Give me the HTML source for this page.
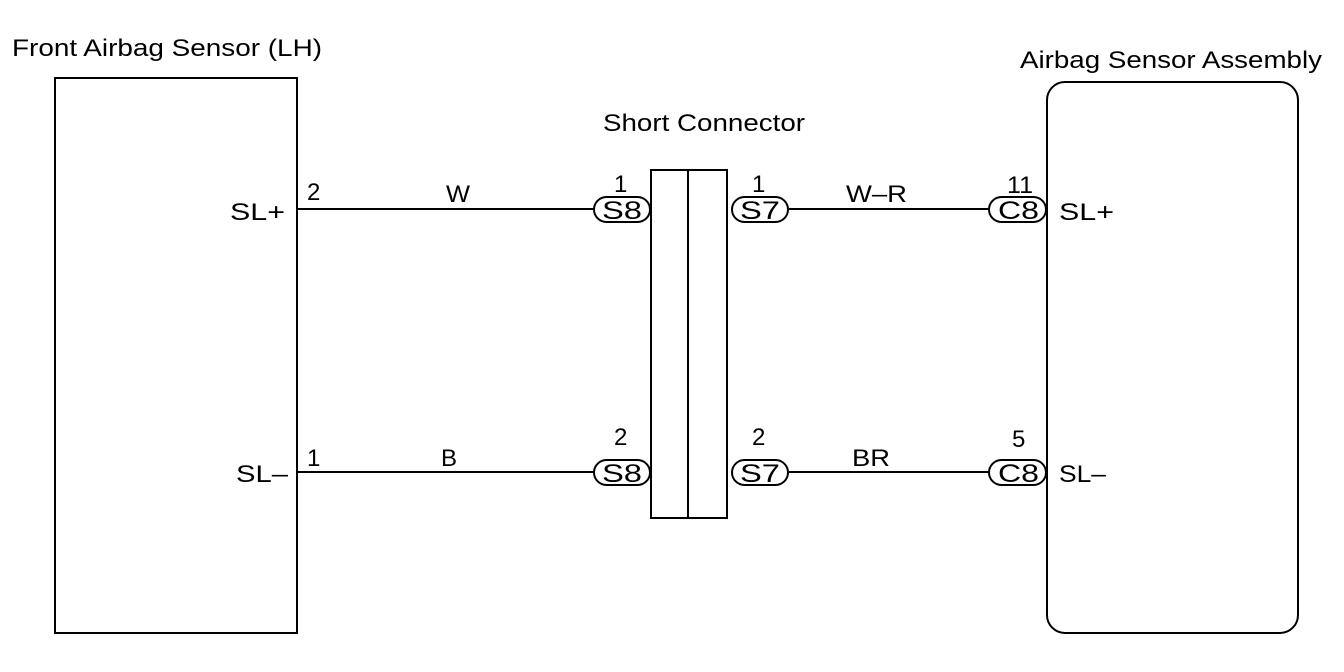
<!DOCTYPE html>
<html><head><style>body{margin:0;background:#fff}svg{display:block}</style></head><body>
<svg width="1344" height="672" viewBox="0 0 1344 672" xmlns="http://www.w3.org/2000/svg" font-family="Liberation Sans, Arial, sans-serif" font-size="24" fill="#000">
<g fill="none" stroke="#000" stroke-width="2">
<rect x="55" y="78" width="242" height="555"/>
<rect x="1047" y="82" width="251" height="551" rx="18"/>
<rect x="651" y="170" width="76" height="348"/>
<line x1="688" y1="170" x2="688" y2="518"/>
<line x1="297" y1="209" x2="594" y2="209"/>
<line x1="789" y1="209" x2="989" y2="209"/>
<line x1="297" y1="472" x2="594" y2="472"/>
<line x1="789" y1="472" x2="989" y2="472"/>
<rect x="594" y="197" width="56" height="25" rx="12.5"/>
<rect x="732" y="197" width="56" height="25" rx="12.5"/>
<rect x="989" y="197" width="57" height="25" rx="12.5"/>
<rect x="594" y="460" width="56" height="25" rx="12.5"/>
<rect x="732" y="460" width="56" height="25" rx="12.5"/>
<rect x="989" y="460" width="57" height="25" rx="12.5"/>
</g>
<text x="12" y="56" textLength="310" lengthAdjust="spacingAndGlyphs">Front Airbag Sensor (LH)</text>
<text x="1020" y="68" textLength="302" lengthAdjust="spacingAndGlyphs">Airbag Sensor Assembly</text>
<text x="603" y="131" textLength="202" lengthAdjust="spacingAndGlyphs">Short Connector</text>
<text x="230" y="220" textLength="55" lengthAdjust="spacingAndGlyphs">SL+</text>
<text x="236" y="482" textLength="52" lengthAdjust="spacingAndGlyphs">SL–</text>
<text x="307" y="200">2</text>
<text x="307" y="466">1</text>
<text x="446" y="202" textLength="24" lengthAdjust="spacingAndGlyphs">W</text>
<text x="441" y="466">B</text>
<text x="614" y="192">1</text>
<text x="614" y="445">2</text>
<text x="752" y="192">1</text>
<text x="752" y="445">2</text>
<text x="846" y="202" textLength="61" lengthAdjust="spacingAndGlyphs">W–R</text>
<text x="852" y="466" textLength="38" lengthAdjust="spacingAndGlyphs">BR</text>
<text x="1007" y="193" textLength="26" lengthAdjust="spacingAndGlyphs">11</text>
<text x="1012" y="447">5</text>
<text x="1059" y="220" textLength="55" lengthAdjust="spacingAndGlyphs">SL+</text>
<text x="1059" y="482" textLength="47" lengthAdjust="spacingAndGlyphs">SL–</text>
<g font-size="25">
<text x="602" y="219" textLength="40" lengthAdjust="spacingAndGlyphs">S8</text>
<text x="740" y="219" textLength="40" lengthAdjust="spacingAndGlyphs">S7</text>
<text x="998" y="219" textLength="41" lengthAdjust="spacingAndGlyphs">C8</text>
<text x="602" y="482" textLength="40" lengthAdjust="spacingAndGlyphs">S8</text>
<text x="740" y="482" textLength="40" lengthAdjust="spacingAndGlyphs">S7</text>
<text x="998" y="482" textLength="41" lengthAdjust="spacingAndGlyphs">C8</text>
</g>
</svg>
</body></html>
